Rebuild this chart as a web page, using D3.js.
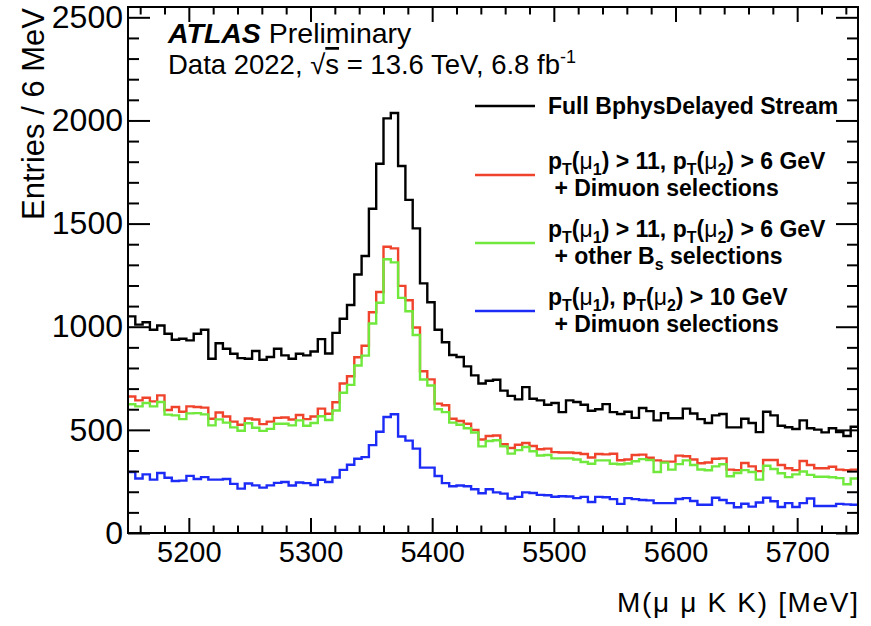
<!DOCTYPE html>
<html lang="en">
<head>
  <meta charset="UTF-8">
  <title>Bs mass</title>
</head>
<body>
<style>
  * {
    padding: 0;
    margin: 0;
  }

  body {
    background: #fff;
  }

  #app {
    width: 871px;
    height: 626px;
  }

  #chart text {
    font-family: "Liberation Sans", Arial, Helvetica, sans-serif;
    fill: #000;
  }

  #chart .tick line {
    stroke: #000;
    stroke-width: 2;
  }
</style>

<div id="app"></div>

<script src="https://cdn.jsdelivr.net/npm/d3@7"></script>

<script>
  // 6 MeV bins from 5150 to 5750 MeV
  const binStart = 5150, binWidth = 6;

  const fullStream = [
    1050, 1010, 1022, 985, 1006, 966, 937, 942, 934, 966, 985, 845, 920, 893, 869, 848, 845, 882, 840, 853,
    893, 861, 845, 869, 861, 880, 940, 870, 970, 1039, 1105, 1253, 1343, 1572, 1790, 2010, 2036, 1779, 1615, 1477,
    1210, 1119, 985, 925, 863, 853, 808, 764, 725, 738, 743, 690, 665, 648, 707, 651, 643, 622, 630, 586,
    643, 635, 622, 593, 600, 625, 586, 577, 588, 558, 606, 591, 546, 581, 556, 556, 603, 579, 552, 533,
    570, 577, 512, 512, 554, 533, 489, 588, 570, 520, 513, 504, 546, 508, 501, 488, 508, 489, 470, 515
  ];

  const dimuon11_6 = [
    662, 643, 656, 638, 667, 596, 611, 588, 614, 611, 608, 554, 584, 565, 540, 525, 555, 550, 528, 540,
    558, 560, 550, 572, 552, 565, 603, 578, 634, 725, 760, 852, 908, 1070, 1168, 1388, 1380, 1198, 1128, 996,
    784, 745, 627, 619, 554, 543, 530, 500, 453, 470, 473, 430, 412, 428, 436, 422, 406, 409, 392, 390,
    390, 388, 383, 366, 383, 381, 384, 353, 356, 378, 380, 365, 352, 346, 346, 375, 372, 356, 338, 342,
    360, 362, 307, 305, 339, 323, 300, 354, 354, 330, 314, 305, 349, 330, 314, 314, 321, 307, 305, 307
  ];

  const otherBs11_6 = [
    624, 614, 630, 614, 635, 574, 570, 552, 580, 581, 575, 522, 551, 535, 512, 496, 532, 510, 495, 505,
    530, 530, 522, 546, 520, 533, 566, 548, 594, 680, 718, 812, 860, 1016, 1116, 1327, 1312, 1140, 1075, 960,
    744, 715, 600, 586, 535, 525, 508, 487, 420, 446, 450, 420, 385, 402, 417, 396, 376, 378, 362, 362,
    362, 356, 344, 336, 352, 352, 336, 333, 337, 348, 358, 354, 296, 341, 307, 334, 352, 330, 308, 304,
    323, 333, 275, 291, 305, 296, 259, 326, 310, 290, 271, 284, 298, 282, 273, 273, 270, 266, 236, 264
  ];

  const dimuon10 = [
    296, 264, 284, 259, 291, 268, 252, 254, 277, 262, 271, 259, 259, 262, 238, 215, 240, 231, 220, 231,
    243, 247, 230, 245, 242, 233, 258, 247, 269, 306, 331, 360, 368, 426, 491, 562, 576, 468, 448, 409,
    317, 317, 276, 242, 227, 230, 227, 212, 193, 212, 197, 191, 167, 175, 197, 194, 185, 183, 176, 178,
    177, 169, 175, 150, 175, 173, 164, 141, 169, 164, 160, 158, 145, 145, 145, 165, 169, 155, 137, 137,
    171, 160, 145, 125, 142, 128, 148, 171, 154, 126, 145, 126, 145, 167, 131, 131, 131, 141, 139, 137
  ];

  const xTicks = [5200, 5300, 5400, 5500, 5600, 5700];
  const yTicks = [0, 500, 1000, 1500, 2000, 2500];

  const seriesColors = ['#000000', '#f0432c', '#70e83c', '#1c2cf6'];
  const legendLabels = [
    ['Full BphysDelayed Stream'],
    ['p_T(μ_1) > 11, p_T(μ_2) > 6 GeV', ' + Dimuon selections'],
    ['p_T(μ_1) > 11, p_T(μ_2) > 6 GeV', ' + other B_s selections'],
    ['p_T(μ_1), p_T(μ_2) > 10 GeV', ' + Dimuon selections']
  ];

  let $width = 871, $height = 626;
  const frame = {left: 128, right: 858, top: 7, bottom: 533};

  const svg = d3.select('#app').append('svg').attr('id', 'chart')
    .attr('width', $width).attr('height', $height);

  const scaleX = d3.scaleLinear().domain([5150, 5750]).range([frame.left, frame.right]);
  const scaleY = d3.scaleLinear().domain([0, 2550]).range([frame.bottom, frame.top]);

  const xMinor = d3.range(5160, 5750, 20).filter(d => d % 100 !== 0);
  const yMinor = d3.range(100, 2550, 100).filter(d => d % 500 !== 0);

  /**
   * histograms (step outline)
   */
  const line = d3.line().x(d => scaleX(d[0])).y(d => scaleY(d[1]));
  const allSeries = [fullStream, dimuon11_6, otherBs11_6, dimuon10];

  allSeries.forEach(function (values, k) {
    const pts = [];
    values.forEach(function (v, i) {
      pts.push([binStart + i * binWidth, v]);
      pts.push([binStart + (i + 1) * binWidth, v]);
    });
    svg.append('path').attr('d', line(pts))
      .attr('fill', 'none').attr('stroke', seriesColors[k])
      .attr('stroke-width', 2.4).attr('stroke-linejoin', 'miter');
  });

  /**
   * axes, ROOT style: ticks inside on all four sides
   */
  function noDomain(g) {
    g.select('.domain').remove();
  }

  const fmt = d3.format('d');

  svg.append('g').attr('transform', 'translate(0,' + frame.bottom + ')')
    .call(d3.axisBottom(scaleX).tickValues(xMinor).tickSize(-7.5).tickFormat(''))
    .call(noDomain);
  svg.append('g').attr('class', 'x-axis').attr('transform', 'translate(0,' + frame.bottom + ')')
    .call(d3.axisBottom(scaleX).tickValues(xTicks).tickSize(-15).tickPadding(8).tickFormat(fmt))
    .call(noDomain)
    .attr('font-size', 29).attr('font-family', null);

  svg.append('g').attr('transform', 'translate(0,' + frame.top + ')')
    .call(d3.axisTop(scaleX).tickValues(xMinor).tickSize(-7.5).tickFormat(''))
    .call(noDomain);
  svg.append('g').attr('transform', 'translate(0,' + frame.top + ')')
    .call(d3.axisTop(scaleX).tickValues(xTicks).tickSize(-15).tickFormat(''))
    .call(noDomain);

  svg.append('g').attr('transform', 'translate(' + frame.left + ',0)')
    .call(d3.axisLeft(scaleY).tickValues(yMinor).tickSize(-11).tickFormat(''))
    .call(noDomain);
  svg.append('g').attr('class', 'y-axis').attr('transform', 'translate(' + frame.left + ',0)')
    .call(d3.axisLeft(scaleY).tickValues(yTicks).tickSize(-22).tickPadding(5).tickFormat(fmt))
    .call(noDomain)
    .attr('font-size', 32).attr('font-family', null);

  svg.append('g').attr('transform', 'translate(' + frame.right + ',0)')
    .call(d3.axisRight(scaleY).tickValues(yMinor).tickSize(-11).tickFormat(''))
    .call(noDomain);
  svg.append('g').attr('transform', 'translate(' + frame.right + ',0)')
    .call(d3.axisRight(scaleY).tickValues(yTicks).tickSize(-22).tickFormat(''))
    .call(noDomain);

  svg.append('rect')
    .attr('x', frame.left).attr('y', frame.top)
    .attr('width', frame.right - frame.left).attr('height', frame.bottom - frame.top)
    .attr('fill', 'none').attr('stroke', '#000').attr('stroke-width', 2);

  /**
   * axis titles
   */
  svg.append('text').attr('x', frame.right).attr('y', 612)
    .attr('text-anchor', 'end').attr('font-size', 28)
    .attr('textLength', 241).attr('lengthAdjust', 'spacing')
    .text('M(μ μ K K) [MeV]');

  svg.append('text').attr('transform', 'translate(44,' + (frame.top + 1) + ') rotate(-90)')
    .attr('text-anchor', 'end').attr('font-size', 31)
    .text('Entries / 6 MeV');

  /**
   * ATLAS label
   */
  const atlas = svg.append('text').attr('x', 168).attr('y', 43).attr('font-size', 28.5);
  atlas.append('tspan').attr('font-weight', 'bold').attr('font-style', 'italic').text('ATLAS');
  atlas.append('tspan').text(' Preliminary');

  const lumi = svg.append('text').attr('x', 168).attr('y', 74).attr('font-size', 27.5);
  lumi.append('tspan').text('Data 2022, √');
  lumi.append('tspan').attr('text-decoration', 'overline').text('s');
  lumi.append('tspan').text(' = 13.6 TeV, 6.8 fb');
  lumi.append('tspan').attr('font-size', 18).attr('dy', -11).text('-1');

  /**
   * legend
   */
  function richText(sel, str) {
    // "_x" is a one-character subscript; μ is drawn in normal weight
    let shift = 0;
    str.split(/(_.|μ)/).forEach(function (p) {
      if (!p) return;
      const t = sel.append('tspan');
      if (p[0] === '_') {
        t.text(p.slice(1)).attr('font-size', 16).attr('dy', 6);
        shift = -6;
      } else {
        t.text(p);
        if (shift) {
          t.attr('dy', shift);
          shift = 0;
        }
        if (p === 'μ') t.attr('font-weight', 'normal');
      }
    });
  }

  const legendRowY = [106, 175, 243, 311];
  const legend = svg.append('g').attr('class', 'legend');

  legendLabels.forEach(function (lines, k) {
    const cy = legendRowY[k];
    legend.append('line').attr('x1', 475).attr('x2', 535).attr('y1', cy).attr('y2', cy)
      .attr('stroke', seriesColors[k]).attr('stroke-width', 2.4);
    lines.forEach(function (txt, j) {
      const ty = lines.length === 1 ? cy + 8 : cy - 6 + j * 27;
      const t = legend.append('text').attr('x', 548).attr('y', ty)
        .attr('font-size', 23).attr('font-weight', 'bold')
        .attr('xml:space', 'preserve').style('white-space', 'pre');
      richText(t, txt);
    });
  });
</script>

</body>
</html>
